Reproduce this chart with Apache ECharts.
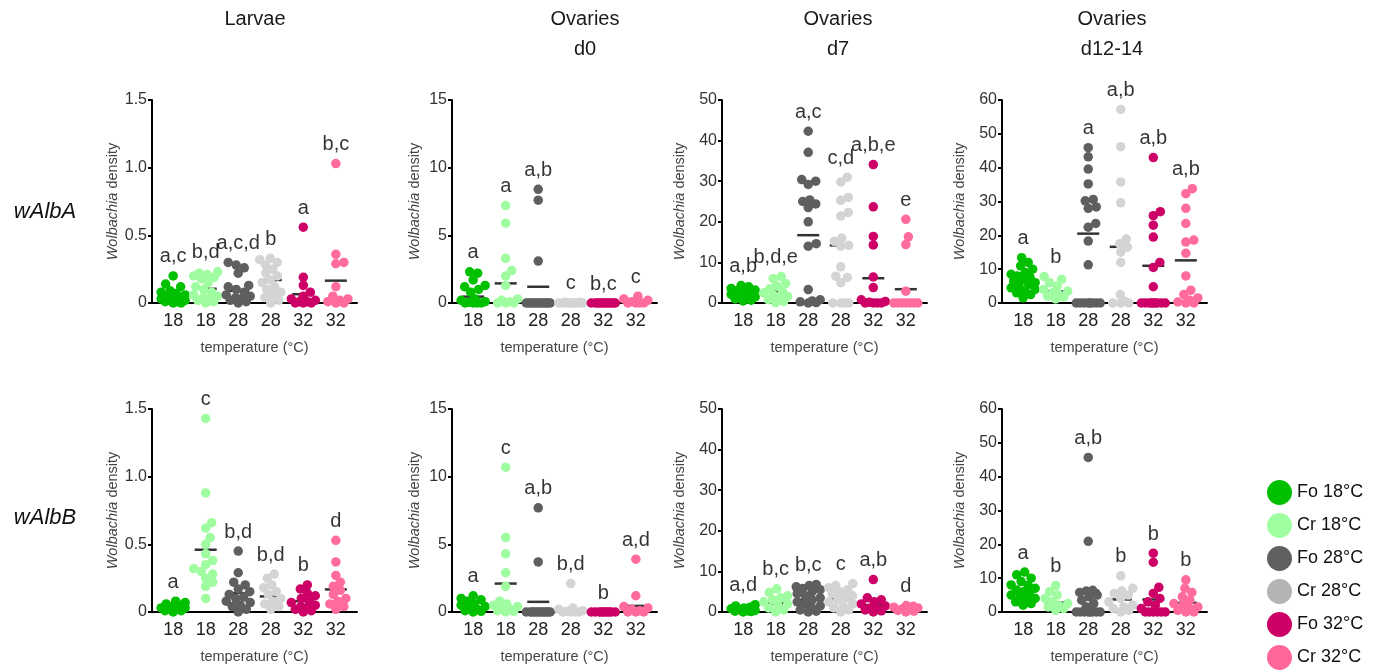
<!DOCTYPE html>
<html>
<head>
<meta charset="utf-8">
<script src="https://cdn.jsdelivr.net/npm/echarts@6/dist/echarts.min.js"></script>
<style>
  html, body { margin: 0; padding: 0; background: #fff; }
  #chart { width: 1373px; height: 671px; }
</style>
</head>
<body>
<div id="chart"></div>
<script>
// groups (order on every x axis) and their colours
var groups = ['Fo 18°C', 'Cr 18°C', 'Fo 28°C', 'Cr 28°C', 'Fo 32°C', 'Cr 32°C'];
var tempLabels = ['18', '18', '28', '28', '32', '32'];
var dotColors = ['#00c000', '#a0fca0', '#5f5f5f', '#d4d4d4', '#cc0066', '#ff6b9d'];
var legendColors = ['#00c000', '#a0ffa0', '#606060', '#b4b4b4', '#cc0066', '#ff6699'];

// columns: tissue / day, y scale
var colTitles = ['Larvae', 'Ovaries\nd0', 'Ovaries\nd7', 'Ovaries\nd12-14'];
var colYMax = [1.5, 15, 50, 60];
var colYStep = [0.5, 5, 10, 10];
var rowNames = ['wAlbA', 'wAlbB'];

// ---- wAlbA ----
var larvaeA = [
    [0.20, 0.14, 0.12, 0.09, 0.08, 0.07, 0.06, 0.05, 0.04, 0.03, 0.03, 0.02, 0.02, 0.01, 0.01, 0, 0],
    [0.23, 0.22, 0.21, 0.20, 0.19, 0.18, 0.15, 0.12, 0.10, 0.08, 0.06, 0.05, 0.04, 0.03, 0.02, 0.01, 0],
    [0.30, 0.28, 0.26, 0.22, 0.13, 0.12, 0.10, 0.08, 0.06, 0.05, 0.04, 0.03, 0.02, 0.01, 0],
    [0.33, 0.32, 0.30, 0.28, 0.25, 0.22, 0.20, 0.17, 0.15, 0.12, 0.10, 0.08, 0.06, 0.04, 0.02, 0],
    [0.56, 0.19, 0.13, 0.08, 0.05, 0.03, 0.02, 0.01, 0.01, 0, 0, 0],
    [1.03, 0.36, 0.30, 0.29, 0.12, 0.05, 0.03, 0.02, 0.01, 0, 0]
];
var larvaeAMean = [0.05, 0.105, 0.09, 0.17, 0.065, 0.165];
var larvaeALetters = ['a,c', 'b,d', 'a,c,d', 'b', 'a', 'b,c'];

var d0A = [
    [2.3, 2.2, 1.7, 1.3, 1.2, 1.0, 0.8, 0.3, 0.2, 0.1, 0.05, 0, 0, 0, 0],
    [7.2, 5.9, 3.3, 2.4, 2.0, 1.3, 0.3, 0.2, 0.1, 0, 0, 0],
    [8.4, 7.6, 3.1, 0, 0, 0, 0, 0, 0, 0, 0, 0, 0, 0, 0, 0],
    [0.05, 0.05, 0, 0, 0, 0, 0, 0, 0, 0, 0, 0],
    [0, 0, 0, 0, 0, 0, 0, 0, 0, 0, 0, 0],
    [0.5, 0.3, 0.2, 0.1, 0, 0, 0, 0]
];
var d0AMean = [0.47, 1.45, 1.2, 0.02, 0, 0.12];
var d0ALetters = ['a', 'a', 'a,b', 'c', 'b,c', 'c'];

var d7A = [
    [4.3, 4.0, 3.6, 3.2, 3.0, 2.7, 2.4, 2.1, 1.8, 1.5, 1.2, 1.0, 0.7, 0.5],
    [6.5, 6.0, 4.8, 4.2, 3.5, 3.0, 2.5, 2.0, 1.6, 1.2, 0.8, 0.4, 0.1],
    [42.3, 37.1, 30.4, 30.0, 29.2, 25.4, 25.0, 24.4, 23.5, 20.0, 14.6, 14.0, 3.3, 0.8, 0.5, 0.3, 0.1, 0],
    [31.0, 29.8, 26.0, 25.3, 22.3, 21.4, 16.0, 15.2, 14.2, 14.0, 8.9, 6.6, 6.3, 5.0, 0, 0, 0, 0],
    [34.1, 23.7, 16.4, 14.3, 6.4, 3.8, 0.8, 0.4, 0.2, 0, 0, 0, 0],
    [20.6, 16.3, 14.4, 2.9, 0, 0, 0, 0, 0, 0, 0]
];
var d7AMean = [2.05, 2.8, 16.7, 14.2, 6.1, 3.4];
var d7ALetters = ['a,b', 'b,d,e', 'a,c', 'c,d', 'a,b,e', 'e'];

var d12A = [
    [13.4, 12, 11, 10, 9, 8.5, 8, 7.5, 7, 6.5, 6, 5.5, 5, 4.5, 4, 3.5, 3, 2.5, 1.5],
    [7.8, 7, 6, 5, 4, 3.5, 3, 2.5, 2, 1.8, 1.2],
    [45.9, 43.2, 39.6, 35.2, 30.6, 30.2, 28.4, 28.0, 23.5, 22.4, 18.3, 11.3, 0, 0, 0, 0, 0, 0, 0, 0],
    [57.2, 46.2, 35.8, 29.6, 18.9, 17.5, 16.5, 15.0, 12.0, 2.5, 0.5, 0, 0, 0],
    [43.0, 27.0, 25.8, 23.0, 19.5, 12.0, 10.5, 4.8, 0, 0, 0, 0, 0, 0, 0, 0, 0],
    [33.8, 32.3, 28.0, 23.5, 18.6, 18.0, 14.7, 8.0, 3.8, 2.5, 1.5, 0.8, 0.3, 0, 0]
];
var d12AMean = [6.7, 3.4, 20.5, 16.6, 11.0, 12.6];
var d12ALetters = ['a', 'b', 'a', 'a,b', 'a,b', 'a,b'];

// ---- wAlbB ----
var larvaeB = [
    [0.08, 0.07, 0.06, 0.05, 0.04, 0.03, 0.03, 0.02, 0.02, 0.01, 0.01, 0],
    [1.43, 0.88, 0.66, 0.62, 0.55, 0.50, 0.43, 0.38, 0.35, 0.32, 0.30, 0.28, 0.25, 0.22, 0.19, 0.10],
    [0.45, 0.29, 0.22, 0.20, 0.17, 0.15, 0.13, 0.11, 0.10, 0.08, 0.07, 0.05, 0.04, 0.02, 0],
    [0.28, 0.25, 0.20, 0.18, 0.15, 0.13, 0.10, 0.08, 0.06, 0.04, 0.02],
    [0.20, 0.17, 0.14, 0.12, 0.10, 0.08, 0.07, 0.05, 0.04, 0.03, 0.02, 0.01, 0],
    [0.53, 0.37, 0.27, 0.22, 0.19, 0.16, 0.13, 0.10, 0.08, 0.06, 0.04, 0.02]
];
var larvaeBMean = [0.03, 0.46, 0.14, 0.115, 0.08, 0.167];
var larvaeBLetters = ['a', 'c', 'b,d', 'b,d', 'b', 'd'];

var d0B = [
    [1.2, 1.0, 0.9, 0.8, 0.6, 0.5, 0.4, 0.3, 0.2, 0.1, 0.05, 0],
    [10.7, 5.5, 4.3, 2.9, 1.9, 0.8, 0.6, 0.5, 0.4, 0.3, 0.2, 0.1, 0.05, 0],
    [7.7, 3.7, 0, 0, 0, 0, 0, 0, 0, 0, 0, 0, 0, 0],
    [2.1, 0.3, 0.2, 0.1, 0.05, 0, 0, 0, 0],
    [0, 0, 0, 0, 0, 0, 0, 0, 0, 0],
    [3.9, 1.2, 0.4, 0.3, 0.2, 0.1, 0, 0, 0]
];
var d0BMean = [0.3, 2.1, 0.75, 0.15, 0, 0.45];
var d0BLetters = ['a', 'c', 'a,b', 'b,d', 'b', 'a,d'];

var d7B = [
    [1.8, 1.5, 1.2, 1.0, 0.8, 0.6, 0.4, 0.3, 0.2, 0.1, 0],
    [5.7, 4.8, 4.0, 3.5, 3.0, 2.5, 2.0, 1.5, 1.0, 0.5, 0],
    [6.8, 6.5, 6.2, 5.8, 5.5, 5.0, 4.5, 4.0, 3.5, 3.0, 2.5, 2.0, 1.5, 1.0, 0.5, 0.2, 0],
    [7.0, 6.5, 6.0, 5.5, 5.0, 4.5, 4.0, 3.5, 3.0, 2.5, 2.0, 1.5, 1.0, 0.5, 0],
    [8.0, 3.5, 3.0, 2.5, 2.0, 1.5, 1.0, 0.8, 0.5, 0.3, 0],
    [1.6, 1.4, 1.2, 1.0, 0.8, 0.6, 0.4, 0.2, 0]
];
var d7BMean = [0.6, 2.1, 3.0, 3.3, 1.7, 0.7];
var d7BLetters = ['a,d', 'b,c', 'b,c', 'c', 'a,b', 'd'];

var d12B = [
    [11.8, 11.0, 10.0, 9.0, 8.0, 7.8, 7.0, 6.5, 6.0, 5.5, 5.0, 4.5, 4.0, 3.5, 3.0, 2.5, 2.0],
    [7.8, 6.0, 5.0, 4.0, 3.0, 2.5, 2.0, 1.5, 1.0, 0.5],
    [45.7, 20.9, 6.4, 6.2, 5.8, 5.0, 4.5, 3.5, 2.5, 1.5, 0, 0, 0, 0, 0, 0, 0, 0],
    [10.7, 7.0, 6.2, 5.5, 5.0, 4.0, 3.0, 2.0, 1.5, 1.0, 0.5, 0],
    [17.4, 14.7, 7.3, 5.5, 4.0, 3.0, 2.0, 1.0, 0, 0, 0, 0, 0, 0],
    [9.5, 7.0, 5.8, 4.5, 3.5, 2.5, 2.0, 1.5, 1.0, 0.5, 0, 0]
];
var d12BMean = [5.9, 2.8, 6.3, 3.7, 3.7, 2.7];
var d12BLetters = ['a', 'b', 'a,b', 'b', 'b', 'b'];

var panels = [
    {row: 0, col: 0, values: larvaeA, means: larvaeAMean, letters: larvaeALetters},
    {row: 0, col: 1, values: d0A, means: d0AMean, letters: d0ALetters},
    {row: 0, col: 2, values: d7A, means: d7AMean, letters: d7ALetters},
    {row: 0, col: 3, values: d12A, means: d12AMean, letters: d12ALetters},
    {row: 1, col: 0, values: larvaeB, means: larvaeBMean, letters: larvaeBLetters},
    {row: 1, col: 1, values: d0B, means: d0BMean, letters: d0BLetters},
    {row: 1, col: 2, values: d7B, means: d7BMean, letters: d7BLetters},
    {row: 1, col: 3, values: d12B, means: d12BMean, letters: d12BLetters}
];

// layout
var FONT = 'Liberation Sans, Arial, sans-serif';
var gridLeft = [152, 452, 722, 1002];
var gridTop = [100, 409];
var gridW = 205, gridH = 203;
var xMin = -0.65, xMax = 5.65;
var dotSize = 9.5;

// beeswarm spread, worked out in pixels, returned as x offsets in axis units
function swarm(vals, yMax) {
    var pxX = gridW / (xMax - xMin);
    var pxY = gridH / yMax;
    var d = 8, half = 12;
    var cands = [];
    for (var c = 0; c <= half; c += 0.5) {
        cands.push(c);
        if (c > 0) cands.push(-c);
    }
    var order = vals.map(function (v, i) { return i; }).sort(function (a, b) { return vals[a] - vals[b]; });
    var placed = [];
    var offs = new Array(vals.length);
    order.forEach(function (idx) {
        var y = vals[idx] * pxY;
        var best = 0, bestScore = -1;
        for (var k = 0; k < cands.length; k++) {
            var x = cands[k];
            var m = Infinity;
            for (var j = 0; j < placed.length; j++) {
                var dx = x - placed[j][0], dy = y - placed[j][1];
                m = Math.min(m, Math.sqrt(dx * dx + dy * dy));
            }
            if (m >= d) { best = x; bestScore = m; break; }
            if (m > bestScore) { bestScore = m; best = x; }
        }
        placed.push([best, y]);
        offs[idx] = best / pxX;
    });
    return offs;
}

var grids = [], xAxes = [], yAxes = [], series = [];

panels.forEach(function (p, pi) {
    var yMax = colYMax[p.col];
    grids.push({left: gridLeft[p.col], top: gridTop[p.row], width: gridW, height: gridH, containLabel: false});
    xAxes.push({
        gridIndex: pi, type: 'value', min: xMin, max: xMax,
        axisLine: {onZero: false, lineStyle: {color: '#000', width: 2}},
        axisTick: {show: false},
        splitLine: {show: false},
        axisLabel: {
            customValues: [0, 1, 2, 3, 4, 5],
            formatter: function (v) { return tempLabels[Math.round(v)]; },
            fontSize: 18, color: '#222', margin: 9, fontFamily: FONT
        },
        name: 'temperature (°C)', nameLocation: 'middle', nameGap: 37,
        nameTextStyle: {fontSize: 14.5, color: '#444', fontFamily: FONT}
    });
    yAxes.push({
        gridIndex: pi, type: 'value', min: 0, max: yMax, interval: colYStep[p.col],
        axisLine: {show: true, onZero: false, lineStyle: {color: '#000', width: 2}},
        axisTick: {show: true, length: 4, lineStyle: {color: '#000', width: 2}},
        splitLine: {show: false},
        axisLabel: {
            fontSize: 16, color: '#333', margin: 5, fontFamily: FONT,
            formatter: function (v) { return (yMax < 5 && v !== 0) ? v.toFixed(1) : String(v); }
        },
        name: '{i|Wolbachia} density', nameLocation: 'middle', nameRotate: 90,
        nameGap: p.col < 2 ? 30 : 35,
        nameTextStyle: {
            fontSize: 14.5, color: '#444', fontFamily: FONT,
            rich: {i: {fontSize: 14.5, color: '#444', fontStyle: 'italic', fontFamily: FONT}}
        }
    });

    // mean bars (behind the dots)
    series.push({
        type: 'scatter', xAxisIndex: pi, yAxisIndex: pi, silent: true, z: 2,
        symbol: 'rect', symbolSize: [22, 2.5],
        itemStyle: {color: '#000'},
        data: p.means.map(function (m, g) { return [g, m]; })
    });

    // dots
    p.values.forEach(function (vals, g) {
        var offs = swarm(vals, yMax);
        series.push({
            name: groups[g], type: 'scatter', xAxisIndex: pi, yAxisIndex: pi, z: 3,
            symbolSize: dotSize, itemStyle: {color: dotColors[g], opacity: 1},
            data: vals.map(function (v, i) { return [g + offs[i], v]; })
        });
    });

    // significance letters above each group's highest point
    series.push({
        type: 'scatter', xAxisIndex: pi, yAxisIndex: pi, silent: true, z: 4, clip: false,
        symbolSize: 0,
        label: {
            show: true, position: 'top', distance: 9,
            fontSize: 20, color: '#000', fontFamily: FONT,
            formatter: function (prm) { return p.letters[prm.dataIndex]; }
        },
        data: p.values.map(function (vals, g) { return [g, Math.max.apply(null, vals)]; })
    });
});

var titleX = [255, 585, 838, 1112];
var graphics = [];
colTitles.forEach(function (t, i) {
    graphics.push({
        type: 'text', x: titleX[i], y: 4,
        style: {text: t, textAlign: 'center', fontSize: 20, lineHeight: 30, fill: '#1a1a1a', fontFamily: FONT}
    });
});
var rowY = [212, 518];
rowNames.forEach(function (t, i) {
    graphics.push({
        type: 'text', x: 45, y: rowY[i],
        style: {text: t, textAlign: 'center', textVerticalAlign: 'middle', fontSize: 22,
            fontStyle: 'italic', fill: '#111', fontFamily: FONT}
    });
});

var chart = echarts.init(document.getElementById('chart'));
chart.setOption({
    animation: false,
    backgroundColor: '#fff',
    grid: grids,
    xAxis: xAxes,
    yAxis: yAxes,
    legend: {
        orient: 'vertical', left: 1267, top: 480, padding: 0,
        itemWidth: 25, itemHeight: 25, itemGap: 8, icon: 'circle', selectedMode: false,
        textStyle: {fontSize: 18, color: '#111', fontFamily: FONT},
        data: groups.map(function (g, i) { return {name: g, itemStyle: {color: legendColors[i]}}; })
    },
    graphic: graphics,
    series: series
});
</script>
</body>
</html>
